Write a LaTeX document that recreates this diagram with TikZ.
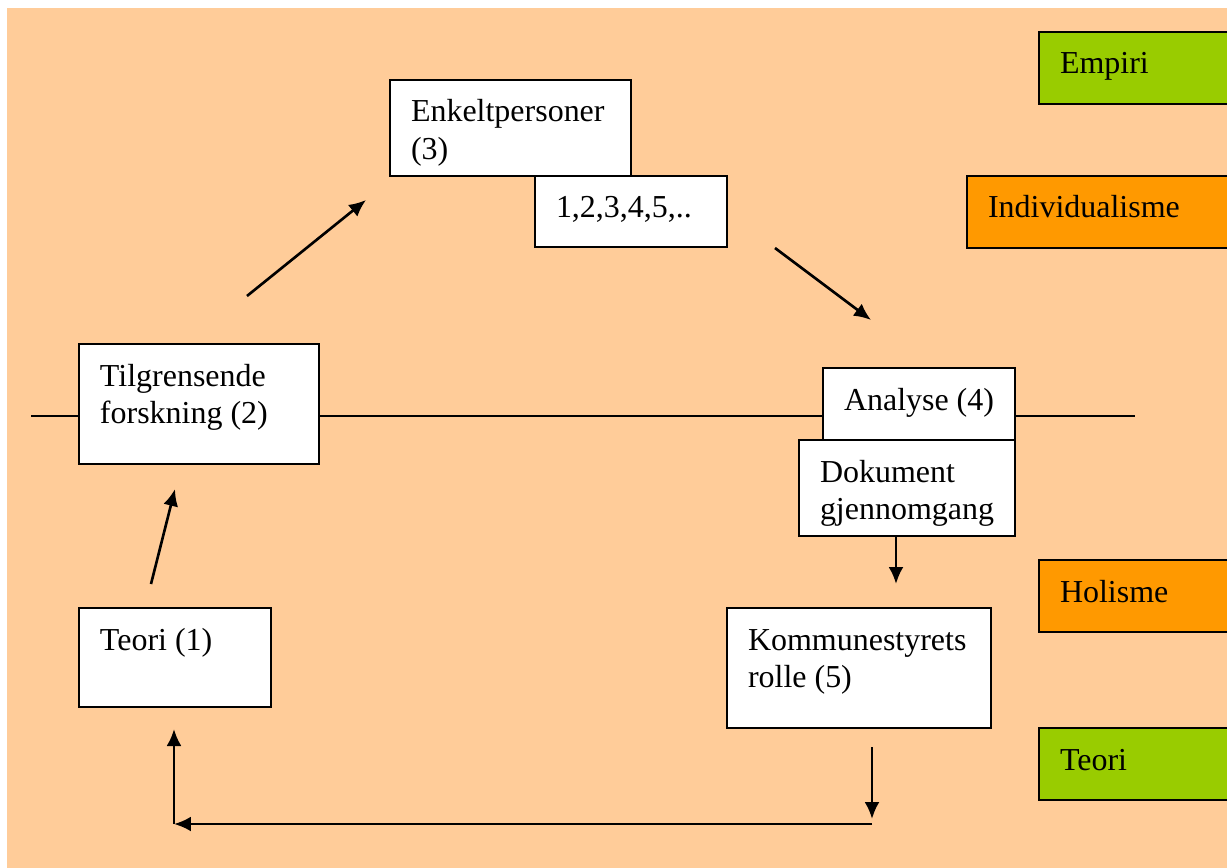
\documentclass[tikz,border=0pt]{standalone}
\usepackage{fontspec}
\setmainfont{Liberation Serif}
\usetikzlibrary{arrows.meta}
\newlength\pxu
\setlength\pxu{0.02cm}
\newcommand{\cell}[3]{\parbox[t][#2\pxu][t]{#1\pxu}{\raggedright\rule{0pt}{42\pxu}#3}}
\definecolor{peach}{HTML}{FFCC99}
\definecolor{grass}{HTML}{99CC00}
\definecolor{amber}{HTML}{FF9900}

\begin{document}
\begin{tikzpicture}[x=0.02cm,y=-0.02cm]
\tikzset{
box/.style={draw,line width=1.2pt,fill=white,anchor=north west,inner xsep=0.42cm,inner ysep=0pt,outer sep=0pt,font=\fontsize{18.2}{21.6}\selectfont},
tag/.style={box,fill=#1},
arrow/.style={line width=1.5pt,-{Latex[length=0.34cm,width=0.3cm]}}
}
\useasboundingbox (0,0) rectangle (1227,868);
\clip (0,0) rectangle (1227,868);
\fill[peach] (7,8) rectangle (1227,868);

% middle line
\coordinate (axisL) at (31,416);
\coordinate (axisR) at (1135,416);
\draw[line width=1pt] (axisL) -- (axisR);

\node[box] (enkelt) at (390,80) {\cell{199}{96}{Enkeltpersoner\\(3)}};
\node[box] (tall) at (535,176) {\cell{150}{71}{1,2,3,4,5,..}};
\node[box] (tilgr) at (79,344) {\cell{198}{120}{Tilgrensende\\forskning (2)}};
\node[box] (analyse) at (823,368) {\cell{150}{72}{Analyse (4)}};
\node[box] (dokument) at (799,440) {\cell{174}{96}{Dokument\\gjennomgang}};
\node[box] (teori) at (79,608) {\cell{150}{99}{Teori (1)}};
\node[box] (rolle) at (727,608) {\cell{222}{120}{Kommunestyrets\\rolle (5)}};

\node[tag=grass] (empiri) at (1039,32) {\cell{220}{72}{Empiri}};
\node[tag=amber] (indiv) at (967,176) {\cell{260}{72}{Individualisme}};
\node[tag=amber] (holisme) at (1039,560) {\cell{220}{72}{Holisme}};
\node[tag=grass] (teorifelt) at (1039,728) {\cell{220}{72}{Teori}};

% arrow ends
\coordinate (s1) at (247,296);  \coordinate (e1) at (366,200);
\coordinate (s2) at (775,248);  \coordinate (e2) at (871,320);
\coordinate (s3) at (151,584);  \coordinate (e3) at (175,489);
\coordinate (s4) at (896,537);  \coordinate (e4) at (896,584);
\coordinate (s5) at (872,747);  \coordinate (e5) at (872,819);
\coordinate (corR) at (872,824);
\coordinate (corL) at (174,824);
\coordinate (e7) at (174,729);

\draw[arrow] (s1) -- (e1);
\draw[arrow] (s2) -- (e2);
\draw[arrow] (s3) -- (e3);
\draw[arrow] (s4) -- (e4);
\draw[arrow] (s5) -- (e5);
\draw[arrow] (corR) -- (corL);
\draw[arrow] (corL) -- (e7);
\end{tikzpicture}
\end{document}
